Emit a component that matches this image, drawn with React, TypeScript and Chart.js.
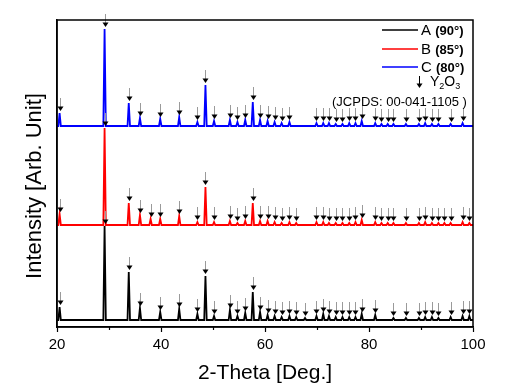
import React, { useEffect, useRef } from "react";
import { Chart, registerables } from "chart.js";

Chart.register(...registerables);

// Y2O3 reflection positions (2-theta, degrees) read from the arrows
const peakPositions = [
  20.5, 29.15, 33.8, 35.95, 38.0, 39.85, 43.5, 47.0, 48.55, 50.2,
  53.25, 54.7, 56.2, 57.65, 59.05, 60.5, 61.85, 63.2, 64.7, 66.0,
  67.7, 69.9, 71.2, 72.3, 73.6, 74.9, 76.2, 77.4, 78.6, 81.2,
  82.4, 83.6, 84.7, 87.1, 89.6, 90.8, 92.1, 93.35, 94.5, 95.7,
  98.0, 99.3,
];

// peak heights above each pattern's baseline (arb. units), 0 = no peak
const heightsA = [
  13, 94, 48, 12, 0, 8, 11, 6, 44, 4,
  10, 4, 7, 28, 8, 5, 4, 3, 4, 3,
  2, 4, 6, 4, 3, 3, 3, 3, 6, 5,
  0, 0, 2, 2, 2, 3, 3, 2, 0, 3,
  4, 4,
];
const heightsB = [
  11, 97, 22, 10, 6, 6, 9, 3, 38, 3,
  4, 2, 4, 22, 4, 4, 3, 2, 3, 2,
  0, 3, 3, 2, 2, 2, 2, 3, 5, 3,
  2, 2, 2, 2, 2, 3, 2, 2, 2, 2,
  3, 2,
];
const heightsC = [
  13, 97, 23, 8, 0, 7, 9, 4, 41, 5,
  6, 4, 6, 24, 6, 5, 4, 3, 4, 0,
  0, 3, 3, 3, 2, 2, 3, 3, 5, 3,
  2, 2, 2, 2, 2, 3, 2, 2, 0, 2,
  3, 0,
];

// vertical offsets of the stacked patterns
const baselineA = 7;
const baselineB = 102;
const baselineC = 201;

const seriesNames = ["A", "B", "C"];
const seriesTemps = ["(90°)", "(85°)", "(80°)"];
const seriesColors = ["#000000", "#ff0000", "#0000ff"];
const xMin = 20;
const xMax = 100;
const yMin = 0;
const yMax = 307;
const majorTicks = [20, 40, 60, 80, 100];
const minorTicks = [30, 50, 70, 90];

const FONT = "'Liberation Sans', Arial, sans-serif";

function buildTrace(base: number, heights: number[]) {
  const pts: { x: number; y: number }[] = [{ x: xMin, y: base }];
  peakPositions.forEach((p, i) => {
    const h = heights[i];
    if (h > 0) {
      pts.push({ x: p - 0.24, y: base });
      pts.push({ x: p, y: base + h });
      pts.push({ x: p + 0.24, y: base });
    }
  });
  pts.push({ x: xMax, y: base });
  return pts;
}

const series = [
  { base: baselineA, heights: heightsA },
  { base: baselineB, heights: heightsB },
  { base: baselineC, heights: heightsC },
];

const decorPlugin = {
  id: "decor",
  afterDatasetsDraw(chart: any) {
    const { ctx, scales } = chart;
    const xs = scales.x;
    const ys = scales.y;
    ctx.save();
    series.forEach((s) => {
      peakPositions.forEach((p, i) => {
        const h = s.heights[i];
        if (h <= 0) return;
        const px = Math.round(xs.getPixelForValue(p)) + 0.5;
        const top = ys.getPixelForValue(s.base + h);
        const tip = top - 2;
        ctx.strokeStyle = "#9a9a9a";
        ctx.lineWidth = 1;
        ctx.beginPath();
        ctx.moveTo(px, tip - 13);
        ctx.lineTo(px, tip - 4);
        ctx.stroke();
        ctx.fillStyle = "#000";
        ctx.beginPath();
        ctx.moveTo(px - 3, tip - 4.5);
        ctx.lineTo(px + 3, tip - 4.5);
        ctx.lineTo(px, tip);
        ctx.closePath();
        ctx.fill();
      });
    });
    ctx.restore();
  },
  afterDraw(chart: any) {
    const { ctx, chartArea, scales } = chart;
    const xs = scales.x;
    ctx.save();
    ctx.strokeStyle = "#000";
    ctx.lineWidth = 1.5;
    ctx.strokeRect(chartArea.left, chartArea.top, chartArea.right - chartArea.left, chartArea.bottom - chartArea.top);
    ctx.lineWidth = 1.2;
    minorTicks.forEach((v) => {
      const px = Math.round(xs.getPixelForValue(v)) + 0.5;
      ctx.beginPath();
      ctx.moveTo(px, chartArea.bottom);
      ctx.lineTo(px, chartArea.bottom + 3);
      ctx.stroke();
    });
    ctx.fillStyle = "#000";
    ctx.font = `21px ${FONT}`;
    ctx.textAlign = "center";
    ctx.textBaseline = "alphabetic";
    ctx.fillText("2-Theta [Deg.]", 265, 379);
    ctx.save();
    ctx.translate(41, 186);
    ctx.rotate(-Math.PI / 2);
    ctx.font = `22px ${FONT}`;
    ctx.fillText("Intensity [Arb. Unit]", 0, 0);
    ctx.restore();

    const rowY = [30, 49, 67];
    const rowBase = [35, 54, 72];
    ctx.textAlign = "left";
    seriesNames.forEach((n, i) => {
      ctx.strokeStyle = seriesColors[i];
      ctx.lineWidth = 1.5;
      ctx.beginPath();
      ctx.moveTo(382, rowY[i]);
      ctx.lineTo(418, rowY[i]);
      ctx.stroke();
      ctx.fillStyle = "#000";
      ctx.font = `15px ${FONT}`;
      ctx.fillText(n, 421, rowBase[i]);
      const w = ctx.measureText(n + " ").width;
      ctx.font = `bold 13px ${FONT}`;
      ctx.fillText(seriesTemps[i], 421 + w, rowBase[i]);
    });
    ctx.strokeStyle = "#000";
    ctx.lineWidth = 1;
    ctx.beginPath();
    ctx.moveTo(419.5, 76);
    ctx.lineTo(419.5, 84);
    ctx.stroke();
    ctx.fillStyle = "#000";
    ctx.beginPath();
    ctx.moveTo(416.5, 83.5);
    ctx.lineTo(422.5, 83.5);
    ctx.lineTo(419.5, 88);
    ctx.closePath();
    ctx.fill();
    let x = 430;
    const parts: [string, boolean][] = [["Y", false], ["2", true], ["O", false], ["3", true]];
    parts.forEach(([t, sub]) => {
      ctx.font = sub ? `9px ${FONT}` : `14px ${FONT}`;
      ctx.fillText(t, x, sub ? 89 : 86);
      x += ctx.measureText(t).width;
    });
    ctx.font = `13px ${FONT}`;
    ctx.fillText("(JCPDS: 00-041-1105 )", 332, 106);
    ctx.restore();
  },
};

export default function App() {
  const ref = useRef<HTMLCanvasElement | null>(null);
  useEffect(() => {
    document.body.style.margin = "0";
    if (!ref.current) return;
    const chart = new Chart(ref.current, {
      type: "line",
      data: {
        datasets: series.map((s, i) => ({
          label: seriesNames[i],
          data: buildTrace(s.base, s.heights),
          borderColor: seriesColors[i],
          borderWidth: 1.8,
          pointRadius: 0,
          tension: 0,
          fill: false,
        })),
      },
      options: {
        animation: false,
        responsive: false,
        devicePixelRatio: 1,
        layout: { padding: { left: 0, right: 41, top: 20, bottom: 0 } },
        plugins: { legend: { display: false }, tooltip: { enabled: false } },
        scales: {
          x: {
            type: "linear",
            min: xMin,
            max: xMax,
            afterFit: (s: any) => {
              s.height = 63;
            },
            afterBuildTicks: (s: any) => {
              s.ticks = majorTicks.map((v) => ({ value: v }));
            },
            ticks: {
              color: "#000",
              font: { family: FONT, size: 15 },
              padding: 4,
              maxRotation: 0,
            },
            grid: {
              display: true,
              drawOnChartArea: false,
              drawTicks: true,
              tickLength: 5,
              tickColor: "#000",
              tickWidth: 1.2,
            },
            border: { display: true, color: "#000", width: 1.5 },
          },
          y: {
            type: "linear",
            min: yMin,
            max: yMax,
            afterFit: (s: any) => {
              s.width = 57;
            },
            ticks: { display: false },
            grid: { display: false },
            border: { display: true, color: "#000", width: 1.5 },
          },
        },
      },
      plugins: [decorPlugin],
    } as any);
    return () => chart.destroy();
  }, []);
  return (
    <div style={{ width: 514, height: 390 }}>
      <canvas ref={ref} width={514} height={390} style={{ display: "block" }} />
    </div>
  );
}
